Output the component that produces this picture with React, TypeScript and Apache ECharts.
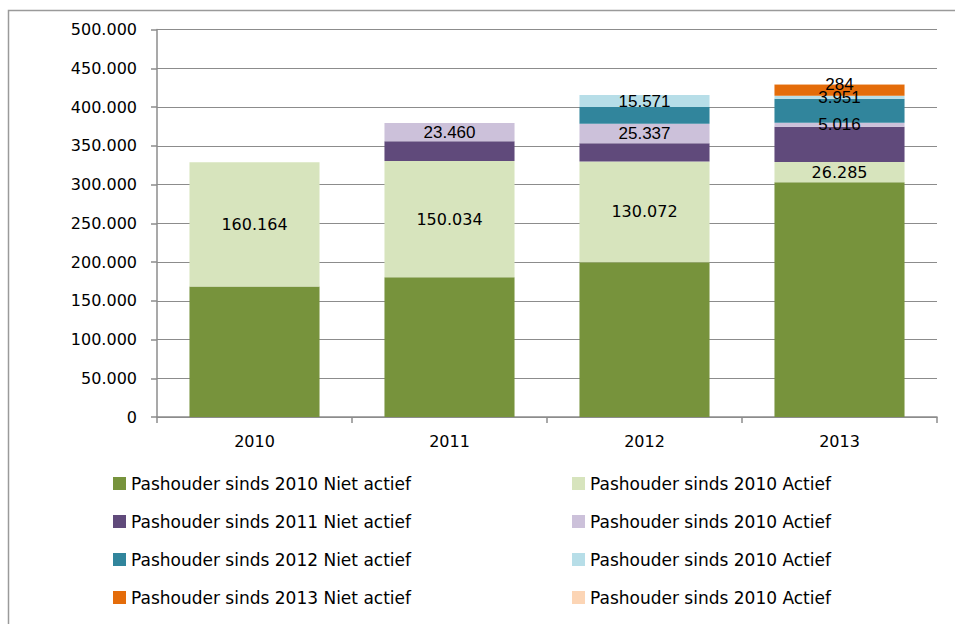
import React, { useEffect, useRef } from "react";
import * as echarts from "echarts";

const categories = ["2010", "2011", "2012", "2013"];

const seriesNames = [
  "Pashouder sinds 2010 Niet actief",
  "Pashouder sinds 2010 Actief",
  "Pashouder sinds 2011 Niet actief",
  "Pashouder sinds 2011 Actief",
  "Pashouder sinds 2012 Niet actief",
  "Pashouder sinds 2012 Actief",
  "Pashouder sinds 2013 Niet actief",
  "Pashouder sinds 2013 Actief",
];

const legendLabels = [
  "Pashouder sinds 2010 Niet actief",
  "Pashouder sinds 2010 Actief",
  "Pashouder sinds 2011 Niet actief",
  "Pashouder sinds 2010 Actief",
  "Pashouder sinds 2012 Niet actief",
  "Pashouder sinds 2010 Actief",
  "Pashouder sinds 2013 Niet actief",
  "Pashouder sinds 2010 Actief",
];

const colors = ["#77933C", "#D7E4BD", "#604A7B", "#CCC1DA", "#31859C", "#B7DEE8", "#E46C0A", "#FCD5B5"];

const niet2010 = [168400, 180400, 199700, 302800];
const actief2010 = [160164, 150034, 130072, 26285];
const niet2011 = [null, 25300, 23300, 45500];
const actief2011 = [null, 23460, 25337, 5016];
const niet2012 = [null, null, 21500, 31100];
const actief2012 = [null, null, 15571, 3951];
const niet2013 = [null, null, null, 14500];
const actief2013 = [null, null, null, 284];

const seriesData = [niet2010, actief2010, niet2011, actief2011, niet2012, actief2012, niet2013, actief2013];

const fmt = (v: number) => String(Math.round(v)).replace(/\B(?=(\d{3})+(?!\d))/g, ".");

export default function App() {
  const ref = useRef<HTMLDivElement>(null);
  useEffect(() => {
    if (!ref.current) return;
    const chart = echarts.init(ref.current, null, { renderer: "svg" });
    const nameMap: Record<string, string> = {};
    seriesNames.forEach((n, i) => (nameMap[n] = legendLabels[i]));
    const gray = "#8c8c8c";
    const font = "DejaVu Sans";
    const series = seriesData.map((d, i) => {
      const isActief = i % 2 === 1;
      return {
        name: seriesNames[i],
        type: "bar",
        stack: "total",
        data: d,
        barCategoryGap: "33.3%",
        itemStyle: { color: colors[i] },
        label: isActief
          ? {
              show: true,
              position: "inside",
              color: "#000",
              fontFamily: i === 1 ? font : "Liberation Sans",
              fontSize: i === 1 ? 16 : 17,
              formatter: (p: any) => fmt(p.value),
            }
          : { show: false },
        emphasis: { disabled: true },
      };
    });
    const legendCommon = {
      orient: "vertical",
      padding: 0,
      itemWidth: 13,
      itemHeight: 13,
      itemGap: 21,
      icon: "rect",
      textStyle: { fontFamily: font, fontSize: 17, color: "#000", lineHeight: 17 },
      formatter: (n: string) => nameMap[n],
      selectedMode: false,
    };
    chart.setOption({
      animation: false,
      graphic: [
        {
          type: "rect",
          shape: { x: 8.5, y: 10.5, width: 2000, height: 1000 },
          style: { fill: "none", stroke: "#9a9a9a", lineWidth: 1.5 },
          silent: true,
          z: -10,
        },
      ],
      grid: { left: 157, right: 18, top: 29.5, bottom: 207 },
      legend: [
        { ...legendCommon, left: 113, top: 475, data: [seriesNames[0], seriesNames[2], seriesNames[4], seriesNames[6]] },
        { ...legendCommon, left: 572, top: 475, data: [seriesNames[1], seriesNames[3], seriesNames[5], seriesNames[7]] },
      ],
      xAxis: {
        type: "category",
        data: categories,
        axisLine: { lineStyle: { color: gray, width: 1.5 } },
        axisTick: { show: true, length: 6, lineStyle: { color: gray, width: 1.5 } },
        axisLabel: { fontFamily: font, fontSize: 16, color: "#000", margin: 16 },
      },
      yAxis: {
        type: "value",
        min: 0,
        max: 500000,
        interval: 50000,
        axisLine: { show: true, lineStyle: { color: gray, width: 1.5 } },
        axisTick: { show: true, length: 6, lineStyle: { color: gray, width: 1.5 } },
        axisLabel: { fontFamily: font, fontSize: 16, color: "#000", margin: 20, formatter: (v: number) => fmt(v) },
        splitLine: { lineStyle: { color: gray, width: 1.2 } },
      },
      series,
    });
    return () => chart.dispose();
  }, []);
  return <div ref={ref} style={{ position: "fixed", left: 0, top: 0, width: 955, height: 624, background: "#fff" }} />;
}
